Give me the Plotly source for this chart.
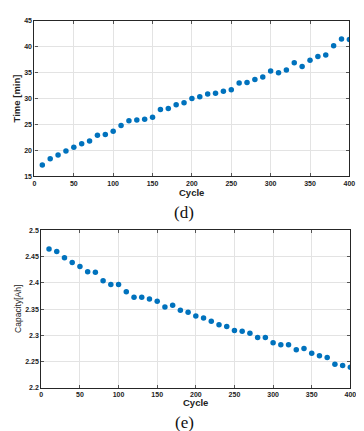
import plotly.graph_objects as go

cycles = [10, 20, 30, 40, 50, 60, 70, 80, 90, 100, 110, 120, 130, 140, 150, 160, 170, 180, 190, 200,
          210, 220, 230, 240, 250, 260, 270, 280, 290, 300, 310, 320, 330, 340, 350, 360, 370, 380, 390, 400]
time_min = [17.2, 18.4, 19.1, 19.9, 20.6, 21.3, 21.8, 22.9, 23.05, 23.7, 24.8, 25.7, 25.85, 26.0, 26.4,
            27.9, 28.1, 28.8, 29.2, 30.0, 30.35, 30.9, 31.05, 31.4, 31.7, 33.0, 33.1, 33.7, 34.15, 35.3,
            35.0, 35.5, 36.9, 36.2, 37.4, 38.1, 38.4, 40.2, 41.5, 41.4]
capacity_ah = [2.4644, 2.46, 2.448, 2.439, 2.431, 2.421, 2.42, 2.404, 2.397, 2.397, 2.383, 2.3725, 2.3725,
               2.369, 2.365, 2.354, 2.3575, 2.348, 2.344, 2.337, 2.333, 2.327, 2.32, 2.317, 2.309, 2.308,
               2.304, 2.296, 2.296, 2.286, 2.282, 2.282, 2.2725, 2.275, 2.266, 2.261, 2.2575, 2.245, 2.2425, 2.239]

x_ticks = [0, 50, 100, 150, 200, 250, 300, 350, 400]
time_ticks = [15, 20, 25, 30, 35, 40, 45]
cap_ticks = [2.2, 2.25, 2.3, 2.35, 2.4, 2.45, 2.5]
cap_tick_text = ["2.2", "2.25", "2.3", "2.35", "2.4", "2.45", "2.5"]

W, H = 364, 431
BLUE = "#0072BD"
tick_font = dict(family="Liberation Sans, Arial", size=7, color="#222", weight="bold")

fig = go.Figure()
fig.add_trace(go.Scatter(x=cycles, y=time_min, mode="markers",
                         marker=dict(color=BLUE, size=5.5), xaxis="x", yaxis="y", showlegend=False))
fig.add_trace(go.Scatter(x=cycles, y=capacity_ah, mode="markers",
                         marker=dict(color=BLUE, size=5.5), xaxis="x2", yaxis="y2", showlegend=False))

def ax(**kw):
    d = dict(showgrid=True, gridcolor="#e3e3e3", gridwidth=1, zeroline=False,
             showline=True, linecolor="#262626", linewidth=1.2, mirror="ticks",
             ticks="inside", ticklen=3, tickcolor="#555", tickwidth=1,
             tickfont=tick_font, fixedrange=True)
    d.update(kw)
    return d

def px_x(p):
    return p / W

def px_y(p):
    return 1 - p / H

fig.update_layout(
    width=W, height=H, autosize=False,
    margin=dict(l=0, r=0, t=0, b=0),
    paper_bgcolor="white", plot_bgcolor="white",
    xaxis=ax(domain=[px_x(25), px_x(347)], range=[0, 400], tickvals=x_ticks, anchor="y"),
    yaxis=ax(domain=[px_y(167), px_y(9)], range=[15, 45], tickvals=time_ticks, anchor="x"),
    xaxis2=ax(domain=[px_x(32), px_x(348)], range=[0, 400], tickvals=x_ticks, anchor="y2"),
    yaxis2=ax(domain=[px_y(382), px_y(222)], range=[2.2, 2.5], tickvals=cap_ticks,
              ticktext=cap_tick_text, anchor="x2"),
)

ann = []
title_font = dict(family="Liberation Sans, Arial", size=9.5, color="#222")
ann.append(dict(text="<b>Cycle</b>", x=px_x(186), y=px_y(183), xref="paper", yref="paper",
                showarrow=False, font=title_font, xanchor="center", yanchor="middle"))
ann.append(dict(text="<b>Time [min]</b>", x=px_x(7), y=px_y(88), xref="paper", yref="paper",
                showarrow=False, font=title_font, textangle=-90, xanchor="center", yanchor="middle"))
ann.append(dict(text="<b>Cycle</b>", x=px_x(190), y=px_y(397), xref="paper", yref="paper",
                showarrow=False, font=title_font, xanchor="center", yanchor="middle"))
ann.append(dict(text="Capacity[Ah]", x=px_x(8), y=px_y(302), xref="paper", yref="paper",
                showarrow=False, font=dict(family="Liberation Sans, Arial", size=8.5, color="#222"),
                textangle=-90, xanchor="center", yanchor="middle"))
cap_font = dict(family="Liberation Serif, Times New Roman", size=17, color="#111")
ann.append(dict(text="(d)", x=px_x(178), y=px_y(204), xref="paper", yref="paper",
                showarrow=False, font=cap_font, xanchor="center", yanchor="middle"))
ann.append(dict(text="(e)", x=px_x(178), y=px_y(417), xref="paper", yref="paper",
                showarrow=False, font=cap_font, xanchor="center", yanchor="middle"))
fig.update_layout(annotations=ann)

fig.write_html("out.html", config={"displayModeBar": False})
